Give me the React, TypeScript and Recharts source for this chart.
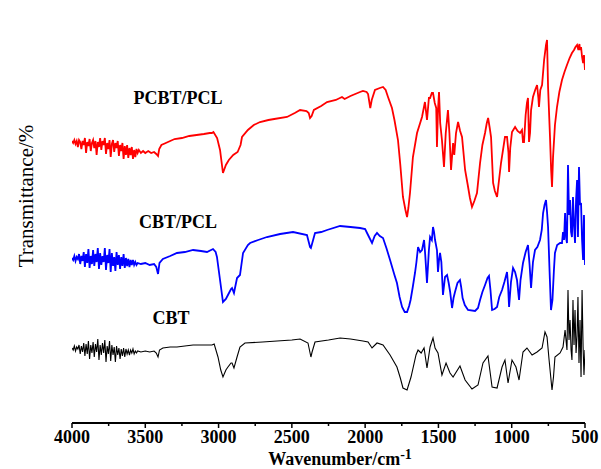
import { LineChart, Line, XAxis, YAxis } from "recharts";

// wavenumber (cm-1) vs. transmittance (arbitrary offset units, spectra stacked)
const wavenumberTicks = [4000, 3750, 3500, 3250, 3000, 2750, 2500, 2250, 2000, 1750, 1500, 1250, 1000, 750, 500];
const labelledTicks = [4000, 3500, 3000, 2500, 2000, 1500, 1000, 500];

const pcbtPcl: [number, number][] = [
  [4000, 282], [3992, 280], [3984, 283], [3976, 279], [3968, 282], [3960, 276], [3952, 283], [3944, 281],
  [3936, 274], [3928, 282], [3920, 278], [3912, 285], [3904, 270], [3896, 281], [3888, 277], [3880, 284],
  [3872, 272], [3864, 280], [3856, 283], [3848, 275], [3840, 282], [3832, 268], [3824, 281], [3816, 276],
  [3808, 285], [3800, 273], [3792, 282], [3784, 278], [3776, 285], [3768, 269], [3760, 280], [3752, 274],
  [3744, 283], [3736, 266], [3728, 279], [3720, 283], [3712, 271], [3704, 280], [3696, 275], [3688, 282],
  [3680, 267], [3672, 278], [3664, 272], [3656, 280], [3648, 264], [3640, 277], [3632, 268], [3624, 278],
  [3616, 265], [3608, 275], [3600, 268], [3592, 276], [3584, 264], [3576, 273], [3568, 266], [3560, 274],
  [3552, 270], [3544, 273], [3530, 270], [3515, 272], [3500, 270], [3480, 272], [3460, 270], [3440, 271],
  [3425, 269], [3413, 267], [3405, 274], [3390, 278], [3360, 280], [3330, 282], [3300, 284], [3250, 285],
  [3200, 287], [3150, 288], [3100, 289], [3060, 290], [3045, 290], [3035, 291], [3010, 285], [2990, 273],
  [2970, 250], [2950, 258], [2930, 263], [2900, 268], [2870, 271], [2850, 278], [2840, 286], [2800, 293],
  [2760, 298], [2717, 301], [2660, 303], [2620, 304], [2533, 306], [2480, 310], [2444, 313], [2400, 312],
  [2385, 310], [2376, 305], [2365, 307], [2350, 313], [2300, 317], [2260, 321], [2200, 323], [2158, 326],
  [2140, 324], [2100, 327], [2035, 331], [2015, 332], [1990, 331], [1980, 329], [1965, 315], [1955, 323],
  [1933, 333], [1900, 335], [1878, 336], [1860, 333], [1844, 326], [1817, 315], [1800, 303], [1776, 283],
  [1760, 258], [1742, 226], [1725, 213], [1714, 206], [1705, 215], [1694, 230], [1674, 266], [1646, 290],
  [1612, 306], [1592, 321], [1578, 303], [1565, 325], [1557, 325], [1545, 330], [1537, 330], [1525, 320],
  [1515, 315], [1510, 276], [1503, 313], [1496, 331], [1488, 300], [1476, 283], [1462, 256], [1450, 290],
  [1435, 313], [1425, 290], [1414, 253], [1400, 280], [1392, 268], [1380, 290], [1366, 301], [1352, 292],
  [1339, 286], [1318, 253], [1300, 238], [1285, 225], [1271, 216], [1255, 222], [1237, 230], [1216, 260],
  [1200, 278], [1182, 290], [1170, 300], [1161, 305], [1150, 295], [1141, 286], [1127, 240], [1115, 232],
  [1100, 226], [1085, 245], [1073, 260], [1046, 286], [1032, 286], [1022, 270], [1018, 251], [1010, 275],
  [998, 291], [977, 296], [960, 292], [943, 290], [930, 293], [923, 281], [916, 281], [905, 308],
  [896, 320], [889, 325], [882, 281], [875, 290], [868, 313], [855, 326], [840, 333], [827, 338],
  [818, 325], [814, 316], [805, 333], [793, 338], [779, 363], [766, 378], [759, 383], [752, 336],
  [738, 283], [731, 253], [725, 236], [718, 266], [705, 298], [691, 316], [675, 331], [657, 343],
  [640, 351], [623, 358], [605, 365], [589, 370], [575, 373], [565, 376], [554, 378], [545, 373],
  [538, 379], [534, 373], [527, 376], [520, 366], [513, 360], [507, 368], [500, 353],
];

const cbtPcl: [number, number][] = [
  [4000, 165], [3992, 163], [3984, 167], [3976, 162], [3968, 166], [3960, 164], [3952, 169], [3944, 159],
  [3936, 167], [3928, 162], [3920, 171], [3912, 156], [3904, 169], [3896, 160], [3888, 174], [3880, 155],
  [3872, 167], [3864, 159], [3856, 173], [3848, 157], [3840, 169], [3832, 161], [3824, 175], [3816, 154],
  [3808, 170], [3800, 158], [3792, 167], [3784, 161], [3776, 175], [3768, 153], [3760, 168], [3752, 160],
  [3744, 174], [3736, 151], [3728, 170], [3720, 157], [3712, 166], [3704, 152], [3696, 171], [3688, 158],
  [3680, 168], [3672, 154], [3664, 166], [3656, 157], [3648, 169], [3640, 155], [3632, 165], [3624, 157],
  [3616, 164], [3608, 156], [3600, 163], [3592, 158], [3584, 163], [3576, 158], [3568, 161], [3560, 158],
  [3552, 160], [3530, 159], [3500, 160], [3470, 158], [3440, 159], [3425, 156], [3413, 149], [3403, 160],
  [3380, 164], [3330, 167], [3284, 170], [3230, 171], [3174, 173], [3120, 172], [3079, 171], [3038, 174],
  [3020, 171], [3011, 166], [2990, 143], [2970, 121], [2950, 124], [2936, 128], [2915, 134], [2908, 135],
  [2895, 130], [2874, 145], [2854, 148], [2833, 170], [2800, 178], [2785, 180], [2730, 183], [2670, 186],
  [2580, 189], [2492, 191], [2397, 188], [2376, 176], [2370, 175], [2355, 183], [2342, 190], [2300, 191],
  [2260, 193], [2171, 197], [2100, 196], [2035, 195], [2000, 194], [1987, 190], [1970, 185], [1953, 180],
  [1935, 187], [1919, 190], [1900, 187], [1878, 185], [1855, 175], [1830, 163], [1800, 148], [1783, 140],
  [1765, 126], [1748, 116], [1730, 111], [1714, 111], [1700, 117], [1690, 123], [1675, 136], [1660, 150],
  [1650, 161], [1639, 176], [1625, 171], [1612, 173], [1598, 183], [1590, 168], [1578, 140], [1565, 173],
  [1557, 186], [1545, 183], [1537, 196], [1530, 191], [1523, 183], [1510, 173], [1503, 151], [1496, 163],
  [1489, 170], [1480, 161], [1469, 128], [1455, 146], [1441, 148], [1430, 140], [1420, 131], [1407, 115],
  [1397, 125], [1387, 131], [1370, 140], [1353, 143], [1345, 136], [1335, 125], [1320, 118], [1298, 113],
  [1250, 112], [1230, 115], [1216, 123], [1200, 131], [1182, 138], [1165, 145], [1155, 147], [1145, 133],
  [1134, 113], [1117, 114], [1100, 116], [1085, 126], [1066, 133], [1050, 141], [1032, 151], [1025, 138],
  [1018, 116], [1005, 141], [991, 155], [977, 151], [964, 143], [950, 123], [940, 143], [923, 160],
  [905, 171], [889, 178], [878, 158], [868, 135], [855, 161], [841, 173], [825, 176], [807, 183],
  [795, 193], [786, 210], [776, 218], [766, 223], [759, 211], [752, 196], [742, 153], [732, 113],
  [722, 123], [712, 153], [705, 170], [690, 178], [670, 180], [657, 180], [650, 191], [643, 183],
  [636, 210], [629, 185], [623, 180], [616, 258], [609, 208], [602, 223], [595, 191], [589, 186],
  [582, 226], [575, 198], [568, 180], [561, 223], [554, 243], [548, 186], [541, 256], [534, 218],
  [527, 220], [520, 183], [513, 163], [507, 208], [500, 158],
];

const cbt: [number, number][] = [
  [4000, 75], [3992, 73], [3984, 77], [3976, 72], [3968, 76], [3960, 74], [3952, 78], [3944, 69],
  [3936, 77], [3928, 71], [3920, 80], [3912, 67], [3904, 79], [3896, 69], [3888, 82], [3880, 64],
  [3872, 78], [3864, 70], [3856, 81], [3848, 66], [3840, 79], [3832, 71], [3824, 84], [3816, 63],
  [3808, 78], [3800, 68], [3792, 80], [3784, 70], [3776, 83], [3768, 61], [3760, 77], [3752, 69],
  [3744, 82], [3736, 62], [3728, 78], [3720, 68], [3712, 76], [3704, 61], [3696, 77], [3688, 68],
  [3680, 75], [3672, 64], [3664, 74], [3656, 67], [3648, 75], [3640, 66], [3632, 74], [3624, 69],
  [3616, 73], [3608, 68], [3600, 73], [3592, 70], [3584, 74], [3576, 69], [3568, 72], [3560, 70],
  [3552, 72], [3530, 71], [3500, 72], [3470, 71], [3440, 72], [3425, 70], [3413, 66], [3403, 73],
  [3380, 75], [3330, 76], [3284, 76], [3230, 77], [3174, 78], [3100, 78], [3045, 78], [3030, 79],
  [3004, 66], [2985, 53], [2970, 46], [2950, 53], [2936, 56], [2915, 60], [2908, 60], [2895, 55],
  [2874, 66], [2854, 76], [2820, 80], [2700, 81], [2601, 82], [2500, 83], [2444, 84], [2390, 80],
  [2370, 66], [2362, 71], [2342, 81], [2250, 83], [2171, 85], [2100, 84], [2015, 82], [1980, 81],
  [1953, 75], [1919, 80], [1878, 78], [1830, 68], [1783, 56], [1760, 45], [1742, 35], [1714, 33],
  [1687, 46], [1653, 68], [1639, 73], [1618, 70], [1598, 75], [1578, 55], [1557, 76], [1537, 85],
  [1523, 75], [1503, 70], [1476, 48], [1448, 60], [1421, 50], [1400, 46], [1353, 57], [1318, 43],
  [1271, 34], [1230, 38], [1196, 60], [1162, 67], [1134, 36], [1100, 35], [1066, 56], [1046, 63],
  [1025, 40], [998, 63], [971, 56], [950, 43], [923, 71], [896, 75], [861, 68], [827, 71],
  [793, 75], [773, 91], [759, 86], [745, 63], [725, 33], [715, 46], [705, 66], [670, 70],
  [650, 76], [636, 93], [623, 73], [616, 133], [609, 83], [602, 103], [595, 73], [589, 63],
  [582, 123], [575, 78], [568, 113], [561, 70], [554, 88], [548, 126], [541, 60], [534, 103],
  [527, 46], [520, 133], [513, 76], [507, 48], [500, 73],
];

const series = [
  { name: "PCBT/PCL", points: pcbtPcl, color: "#ff0000", width: 1.8 },
  { name: "CBT/PCL", points: cbtPcl, color: "#0000ff", width: 1.8 },
  { name: "CBT", points: cbt, color: "#000000", width: 1.1 },
];

const serif = "'Liberation Serif', 'Times New Roman', serif";

const BottomTick = ({ x, y, payload }: any) => {
  const major = labelledTicks.includes(payload.value);
  return (
    <g>
      <line x1={x} x2={x} y1={y} y2={y + (major ? 5 : 3)} stroke="#000" strokeWidth={1.5} />
      {major && (
        <text
          x={x}
          y={y + 20}
          textAnchor="middle"
          style={{ fontFamily: serif, fontWeight: "bold", fontSize: 18 }}
          fill="#000"
        >
          {payload.value}
        </text>
      )}
    </g>
  );
};

const TopTick = ({ x, y }: any) => (
  <line x1={x} x2={x} y1={y} y2={y + 3} stroke="#000" strokeWidth={1.5} />
);

const labelStyle = (left: number, top: number, extra = {}) => ({
  position: "absolute" as const,
  left,
  top,
  transform: "translate(-50%, -50%)",
  whiteSpace: "nowrap" as const,
  fontFamily: serif,
  lineHeight: 1,
  color: "#000",
  ...extra,
});

const App = () => {
  return (
    <div style={{ position: "absolute", left: 0, top: 0, width: 601, height: 469 }}>
      <LineChart width={601} height={469} margin={{ top: 13, right: 16, bottom: 0, left: 72 }}>
        <XAxis
          xAxisId="b"
          dataKey="wn"
          type="number"
          domain={[500, 4000]}
          reversed
          ticks={wavenumberTicks}
          interval={0}
          height={46}
          tickSize={0}
          tickMargin={0}
          tickLine={false}
          tick={<BottomTick />}
          axisLine={{ stroke: "#000", strokeWidth: 2 }}
          allowDataOverflow
        />
        <XAxis
          xAxisId="t"
          orientation="top"
          dataKey="wn"
          type="number"
          domain={[500, 4000]}
          reversed
          ticks={wavenumberTicks}
          interval={0}
          height={0}
          tickSize={0}
          tickMargin={0}
          tickLine={false}
          tick={<TopTick />}
          axisLine={{ stroke: "#000", strokeWidth: 2 }}
        />
        <YAxis yAxisId="l" domain={[0, 410]} width={0} tick={false} tickLine={false} axisLine={{ stroke: "#000", strokeWidth: 2 }} />
        <YAxis yAxisId="r" orientation="right" domain={[0, 410]} width={0} tick={false} tickLine={false} axisLine={{ stroke: "#000", strokeWidth: 2 }} />
        {series.map((s) => (
          <Line
            key={s.name}
            xAxisId="b"
            yAxisId="l"
            data={s.points.map(([wn, t]) => ({ wn, t }))}
            dataKey="t"
            type="linear"
            stroke={s.color}
            strokeWidth={s.width}
            dot={false}
            isAnimationActive={false}
          />
        ))}
      </LineChart>
      <div style={labelStyle(178, 98, { fontSize: 18, fontWeight: "bold" })}>PCBT/PCL</div>
      <div style={labelStyle(178, 222, { fontSize: 18, fontWeight: "bold" })}>CBT/PCL</div>
      <div style={labelStyle(171, 318, { fontSize: 18, fontWeight: "bold" })}>CBT</div>
      <div style={labelStyle(26, 196, { fontSize: 21, transform: "translate(-50%, -50%) rotate(-90deg)" })}>
        Transmittance/%
      </div>
      <div style={labelStyle(340, 459, { fontSize: 18, fontWeight: "bold" })}>
        Wavenumber/cm<sup style={{ fontSize: 14, verticalAlign: "0.45em", lineHeight: 0 }}>-1</sup>
      </div>
    </div>
  );
};

export default App;
